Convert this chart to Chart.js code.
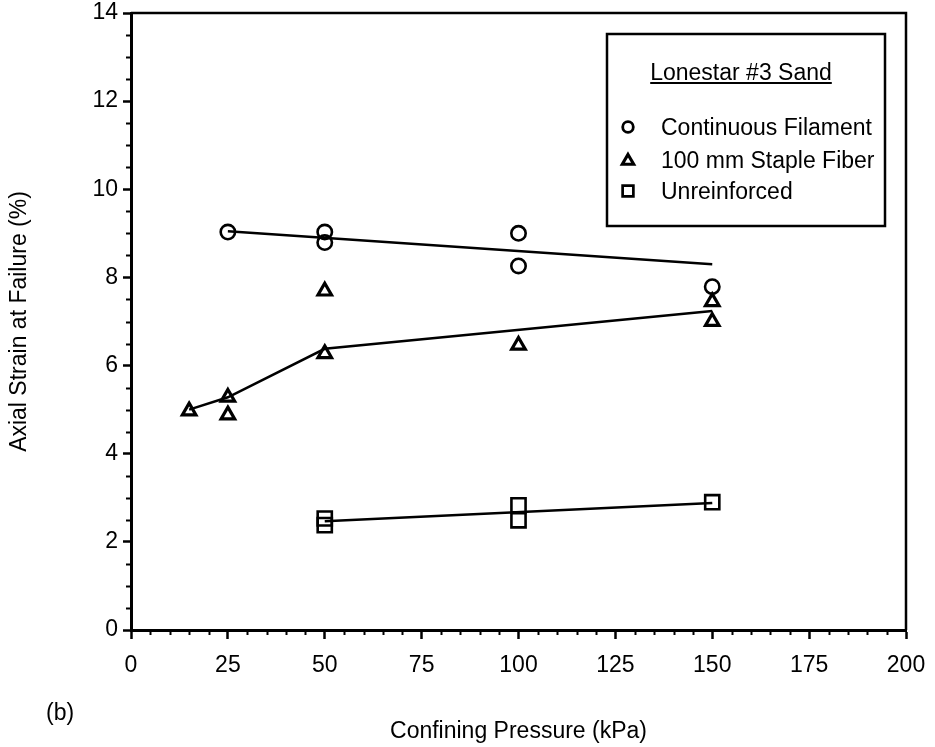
<!DOCTYPE html>
<html><head><meta charset="utf-8">
<script src="https://cdn.jsdelivr.net/npm/chart.js@4.4.1/dist/chart.umd.min.js"></script>
<style>html,body{margin:0;padding:0;background:#fff;} #wrap{width:935px;height:747px;position:relative;}</style>
</head><body><div id="wrap"><canvas id="c" width="935" height="747"></canvas></div>
<script>
// ---- data ----
const xAxisMin = 0, xAxisMax = 200, xMajorStep = 25, xMinorStep = 5;
const yAxisMin = 0, yAxisMax = 14, yMajorStep = 2, yMinorStep = 0.5;

const legendTitle = 'Lonestar #3 Sand';
const seriesNames = ['Continuous Filament', '100 mm Staple Fiber', 'Unreinforced'];

const pressureCF = [25, 50, 50, 100, 100, 150];
const strainCF   = [9.03, 9.03, 8.79, 9.00, 8.26, 7.79];

const pressureSF = [15, 25, 25, 50, 50, 100, 150, 150];
const strainSF   = [4.97, 5.28, 4.88, 7.69, 6.27, 6.46, 7.45, 7.00];

const pressureUR = [50, 50, 100, 100, 150];
const strainUR   = [2.53, 2.38, 2.83, 2.49, 2.90];

const fitPressureCF = [25, 150];
const fitStrainCF   = [9.05, 8.30];
const fitPressureSF = [15, 25, 50, 150];
const fitStrainSF   = [5.00, 5.28, 6.38, 7.24];
const fitPressureUR = [50, 150];
const fitStrainUR   = [2.47, 2.88];

const xTitle = 'Confining Pressure (kPa)';
const yTitle = 'Axial Strain at Failure (%)';
const panelLabel = '(b)';

// ---- helpers ----
const FONT = '"Liberation Sans", Arial, Helvetica, sans-serif';
const pts = (xs, ys) => xs.map((x, i) => ({x, y: ys[i]}));

function drawMarker(ctx, style, x, y, r, bw) {
  ctx.save();
  ctx.lineWidth = bw; ctx.strokeStyle = '#000'; ctx.lineJoin = 'miter';
  ctx.beginPath();
  if (style === 'circle') {
    ctx.arc(x, y, r, 0, Math.PI * 2);
  } else if (style === 'triangle') {
    const a = Math.PI * 2 / 3;
    ctx.moveTo(x, y - r);
    ctx.lineTo(x + Math.sin(a) * r, y - Math.cos(a) * r);
    ctx.lineTo(x - Math.sin(a) * r, y - Math.cos(a) * r);
    ctx.closePath();
  } else {
    const s = r * Math.SQRT1_2;
    ctx.rect(x - s, y - s, 2 * s, 2 * s);
  }
  ctx.stroke();
  ctx.restore();
}

const minorTicks = {
  id: 'minorTicks',
  afterDraw(chart) {
    const {ctx, chartArea: ca, scales: {x, y}} = chart;
    ctx.save();
    ctx.strokeStyle = '#000'; ctx.lineWidth = 2;
    ctx.beginPath();
    for (let v = xAxisMin + xMinorStep; v < xAxisMax; v += xMinorStep) {
      if (Math.abs(v % xMajorStep) < 1e-6) continue;
      const px = Math.round(x.getPixelForValue(v)) + 0.5;
      ctx.moveTo(px, ca.bottom); ctx.lineTo(px, ca.bottom + 5);
    }
    for (let v = yAxisMin + yMinorStep; v < yAxisMax; v += yMinorStep) {
      if (Math.abs(v % yMajorStep) < 1e-6) continue;
      const py = Math.round(y.getPixelForValue(v)) + 0.5;
      ctx.moveTo(ca.left, py); ctx.lineTo(ca.left - 5, py);
    }
    ctx.stroke();
    ctx.restore();
  }
};

const frame = {
  id: 'frame',
  afterDraw(chart) {
    const {ctx, chartArea: ca} = chart;
    ctx.save();
    ctx.strokeStyle = '#000'; ctx.lineWidth = 2.5;
    ctx.beginPath();
    ctx.moveTo(ca.left, ca.top); ctx.lineTo(ca.right, ca.top); ctx.lineTo(ca.right, ca.bottom);
    ctx.stroke();
    // panel label
    ctx.fillStyle = '#000';
    ctx.font = '23px ' + FONT;
    ctx.textBaseline = 'middle'; ctx.textAlign = 'left';
    ctx.fillText(panelLabel, 46, 714);
    ctx.restore();
  }
};

const boxLegend = {
  id: 'boxLegend',
  afterDraw(chart) {
    const {ctx, chartArea: ca} = chart;
    const w = 278, h = 192;
    const left = ca.right - 21 - w, top = ca.top + 21;
    ctx.save();
    ctx.fillStyle = '#fff';
    ctx.fillRect(left, top, w, h);
    ctx.strokeStyle = '#000'; ctx.lineWidth = 2.5;
    ctx.strokeRect(left, top, w, h);
    ctx.fillStyle = '#000';
    ctx.font = '23px ' + FONT;
    ctx.textBaseline = 'alphabetic';
    ctx.textAlign = 'center';
    const tx = left + 134, ty = top + 46;
    ctx.fillText(legendTitle, tx, ty);
    const tw = ctx.measureText(legendTitle).width;
    ctx.lineWidth = 1.8;
    ctx.beginPath();
    ctx.moveTo(tx - tw / 2, ty + 3); ctx.lineTo(tx + tw / 2, ty + 3);
    ctx.stroke();
    ctx.textAlign = 'left';
    const styles = ['circle', 'triangle', 'rect'];
    const radii = [5.3, 6.6, 7.6];
    const bws = [2.8, 3.1, 2.7];
    const rows = [93, 126, 157];
    for (let i = 0; i < 3; i++) {
      const yy = top + rows[i];
      drawMarker(ctx, styles[i], left + 21, yy + (i === 1 ? 1 : 0), radii[i], bws[i]);
      ctx.fillText(seriesNames[i], left + 54, yy + 8);
    }
    ctx.restore();
  }
};

const markerBase = {showLine: false, borderColor: '#000', backgroundColor: 'rgba(0,0,0,0)'};
const lineBase = {showLine: true, borderColor: '#000', borderWidth: 2.5, pointRadius: 0, tension: 0, fill: false};

new Chart(document.getElementById('c'), {
  type: 'scatter',
  data: {
    datasets: [
      Object.assign({label: 'CF fit', data: pts(fitPressureCF, fitStrainCF)}, lineBase),
      Object.assign({label: 'SF fit', data: pts(fitPressureSF, fitStrainSF)}, lineBase),
      Object.assign({label: 'UR fit', data: pts(fitPressureUR, fitStrainUR)}, lineBase),
      Object.assign({label: seriesNames[0], data: pts(pressureCF, strainCF), pointStyle: 'circle', pointRadius: 7.2, borderWidth: 2.6}, markerBase),
      Object.assign({label: seriesNames[1], data: pts(pressureSF, strainSF), pointStyle: 'triangle', pointRadius: 7.8, borderWidth: 3.2}, markerBase),
      Object.assign({label: seriesNames[2], data: pts(pressureUR, strainUR), pointStyle: 'rect', pointRadius: 10, borderWidth: 2.6}, markerBase)
    ]
  },
  options: {
    responsive: false,
    animation: false,
    devicePixelRatio: 1,
    layout: {padding: {top: 13, right: 29, left: 0, bottom: 0}},
    plugins: {legend: {display: false}, tooltip: {enabled: false}},
    elements: {point: {hoverRadius: 0}},
    scales: {
      x: {
        type: 'linear', min: xAxisMin, max: xAxisMax,
        afterFit(s) { s.height = 117; s.paddingLeft = 0; s.paddingRight = 0; },
        ticks: {stepSize: xMajorStep, autoSkip: false, maxRotation: 0, color: '#000', padding: 13,
                font: {family: FONT, size: 23}},
        grid: {drawOnChartArea: false, tickLength: 9, tickColor: '#000', tickWidth: 2.5},
        border: {color: '#000', width: 3},
        title: {display: true, text: xTitle, color: '#000', font: {family: FONT, size: 23}, padding: {top: 0, bottom: 2}}
      },
      y: {
        type: 'linear', min: yAxisMin, max: yAxisMax,
        afterFit(s) { s.width = 131; s.paddingTop = 0; s.paddingBottom = 0; },
        ticks: {stepSize: yMajorStep, color: '#000', padding: 5, font: {family: FONT, size: 23}},
        grid: {drawOnChartArea: false, tickLength: 8, tickColor: '#000', tickWidth: 2.5},
        border: {color: '#000', width: 3},
        title: {display: true, text: yTitle, color: '#000', font: {family: FONT, size: 23}, padding: {top: 6, bottom: 0}}
      }
    }
  },
  plugins: [minorTicks, frame, boxLegend]
});
</script></body></html>
